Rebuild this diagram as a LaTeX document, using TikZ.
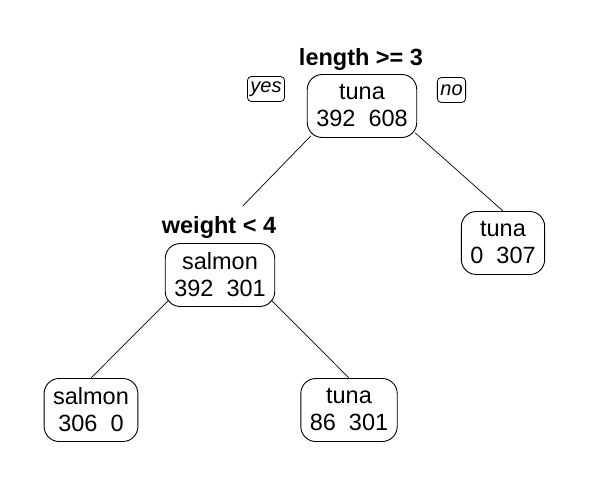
\documentclass[tikz,border=0pt]{standalone}
\usepackage{fontspec}
\setmainfont{Liberation Sans}
\usetikzlibrary{positioning, calc}
\tikzstyle{split} = [rectangle, rounded corners=15pt, draw=black, line width=0.9pt, fill=white, align=center, inner xsep=9pt, inner ysep=4pt, minimum height=63pt, font=\fontsize{23.5}{27}\selectfont]
\tikzstyle{rule} = [anchor=base, inner sep=1pt, font=\bfseries\fontsize{23.5}{27}\selectfont]
\tikzstyle{tag} = [rectangle, rounded corners=4pt, draw=black, line width=0.8pt, inner xsep=3pt, inner ysep=2pt, minimum height=25pt, font=\itshape\fontsize{20}{22}\selectfont]
\tikzstyle{branch} = [line width=0.7pt]

\begin{document}
\begin{tikzpicture}[x=1pt, y=-1pt]
        \useasboundingbox (0,0) rectangle (589,479);

        % Root split
        \node (root) [split] at (362,106) {tuna\\392\ \ 608};
        \node (rootrule) [rule] at (361,65) {length >= 3};
        \node (yes) [tag] at (266,89) {yes};
        \node (no) [tag] at (451.5,90) {no};

        % Second split
        \node (wt) [split] at (220,275) {salmon\\392\ \ 301};
        \node (wtrule) [rule] at (219,233) {weight < 4};

        % Leaves
        \node (leafR) [split] at (503,243) {tuna\\0\ \ 307};
        \node (leafLL) [split] at (91,410) {salmon\\306\ \ 0};
        \node (leafLR) [split] at (349,410) {tuna\\86\ \ 301};

        % Branches
        \draw [branch] ([xshift=4pt,yshift=2pt]root.south west) -- ([xshift=24pt,yshift=9pt]wtrule.north);
        \draw [branch] ([xshift=-2pt,yshift=5pt]root.south east) -- (leafR.north);
        \draw [branch] ([xshift=4pt,yshift=7pt]wt.south west) -- (leafLL.north);
        \draw [branch] ([xshift=-4pt,yshift=7pt]wt.south east) -- (leafLR.north);

    \end{tikzpicture}
\end{document}
